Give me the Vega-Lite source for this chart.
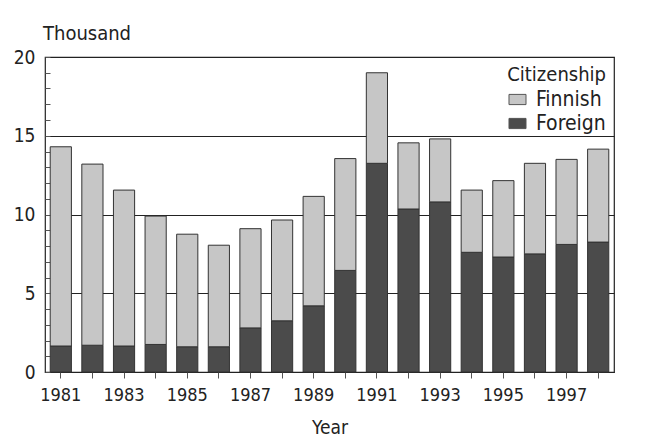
{
  "$schema": "https://vega.github.io/schema/vega-lite/v6.json",
  "width": 569,
  "height": 315,
  "autosize": {"type": "none"},
  "padding": {"left": 45, "top": 57, "right": 32, "bottom": 68},
  "background": "white",
  "config": {
    "font": "'DejaVu Sans Condensed', Roboto, sans-serif",
    "view": {"stroke": "#222", "strokeWidth": 1.2},
    "axis": {"labelFont": "'DejaVu Sans Condensed', Roboto, sans-serif", "titleFont": "'DejaVu Sans Condensed', Roboto, sans-serif", "labelColor": "#222", "titleColor": "#222"},
    "legend": {"labelFont": "'DejaVu Sans Condensed', Roboto, sans-serif", "titleFont": "'DejaVu Sans Condensed', Roboto, sans-serif"}
  },
  "data": {
    "values": [
      {"year": 1981, "citizenship": "Foreign", "value": 1.65},
      {"year": 1981, "citizenship": "Finnish", "value": 12.65},
      {"year": 1982, "citizenship": "Foreign", "value": 1.7},
      {"year": 1982, "citizenship": "Finnish", "value": 11.5},
      {"year": 1983, "citizenship": "Foreign", "value": 1.65},
      {"year": 1983, "citizenship": "Finnish", "value": 9.9},
      {"year": 1984, "citizenship": "Foreign", "value": 1.75},
      {"year": 1984, "citizenship": "Finnish", "value": 8.15},
      {"year": 1985, "citizenship": "Foreign", "value": 1.6},
      {"year": 1985, "citizenship": "Finnish", "value": 7.15},
      {"year": 1986, "citizenship": "Foreign", "value": 1.6},
      {"year": 1986, "citizenship": "Finnish", "value": 6.45},
      {"year": 1987, "citizenship": "Foreign", "value": 2.8},
      {"year": 1987, "citizenship": "Finnish", "value": 6.3},
      {"year": 1988, "citizenship": "Foreign", "value": 3.25},
      {"year": 1988, "citizenship": "Finnish", "value": 6.4},
      {"year": 1989, "citizenship": "Foreign", "value": 4.2},
      {"year": 1989, "citizenship": "Finnish", "value": 6.95},
      {"year": 1990, "citizenship": "Foreign", "value": 6.45},
      {"year": 1990, "citizenship": "Finnish", "value": 7.1},
      {"year": 1991, "citizenship": "Foreign", "value": 13.25},
      {"year": 1991, "citizenship": "Finnish", "value": 5.75},
      {"year": 1992, "citizenship": "Foreign", "value": 10.35},
      {"year": 1992, "citizenship": "Finnish", "value": 4.2},
      {"year": 1993, "citizenship": "Foreign", "value": 10.8},
      {"year": 1993, "citizenship": "Finnish", "value": 4.0},
      {"year": 1994, "citizenship": "Foreign", "value": 7.6},
      {"year": 1994, "citizenship": "Finnish", "value": 3.95},
      {"year": 1995, "citizenship": "Foreign", "value": 7.3},
      {"year": 1995, "citizenship": "Finnish", "value": 4.85},
      {"year": 1996, "citizenship": "Foreign", "value": 7.5},
      {"year": 1996, "citizenship": "Finnish", "value": 5.75},
      {"year": 1997, "citizenship": "Foreign", "value": 8.1},
      {"year": 1997, "citizenship": "Finnish", "value": 5.4},
      {"year": 1998, "citizenship": "Foreign", "value": 8.25},
      {"year": 1998, "citizenship": "Finnish", "value": 5.9}
    ]
  },
  "mark": {"type": "bar", "stroke": "#333", "strokeWidth": 1},
  "encoding": {
    "x": {
      "field": "year", "type": "ordinal",
      "scale": {"paddingInner": 0.33, "paddingOuter": 0.165},
      "axis": {
        "title": "Year", "titleFontSize": 19, "titleFontWeight": "normal", "titlePadding": 14,
        "labelAngle": 0, "labelFontSize": 18, "labelPadding": 8,
        "labelExpr": "datum.value % 2 == 1 ? datum.label : ''",
        "tickSize": 6, "tickColor": "#555", "domain": false, "grid": false
      }
    },
    "y": {
      "field": "value", "type": "quantitative", "aggregate": "sum",
      "scale": {"domain": [0, 20], "nice": false},
      "axis": {
        "title": null,
        "values": [0,1,2,3,4,5,6,7,8,9,10,11,12,13,14,15,16,17,18,19,20],
        "labelExpr": "datum.value % 5 == 0 ? datum.label : ''",
        "labelFontSize": 19, "labelPadding": 10,
        "offset": -5,
        "tickSize": 5, "tickColor": "#555", "tickWidth": 1,
        "domain": false,
        "grid": true, "gridWidth": 1, "gridOpacity": 1,
        "gridColor": {"condition": {"test": "datum.value % 5 == 0", "value": "#222"}, "value": "transparent"}
      }
    },
    "color": {
      "field": "citizenship", "type": "nominal",
      "scale": {"domain": ["Finnish", "Foreign"], "range": ["#c6c6c6", "#4b4b4b"]},
      "legend": {
        "title": "Citizenship", "orient": "top-right", "offset": 8,
        "titleFontSize": 20, "titleFontWeight": "normal", "titleColor": "#222", "titleAlign": "right", "titleAnchor": "end",
        "titlePadding": 4,
        "labelFontSize": 21, "labelColor": "#222", "labelOffset": 8,
        "symbolType": "M-1,-0.6H1V0.6H-1Z", "symbolSize": 290, "symbolStrokeColor": "#555", "symbolStrokeWidth": 1,
        "rowPadding": 2, "padding": 0
      }
    },
    "order": {"field": "citizenship", "sort": "descending"}
  },
  "title": {
    "text": "Thousand", "anchor": "start", "frame": "group", "fontSize": 20, "fontWeight": "normal",
    "color": "#222", "offset": 4, "dx": -2
  }
}
